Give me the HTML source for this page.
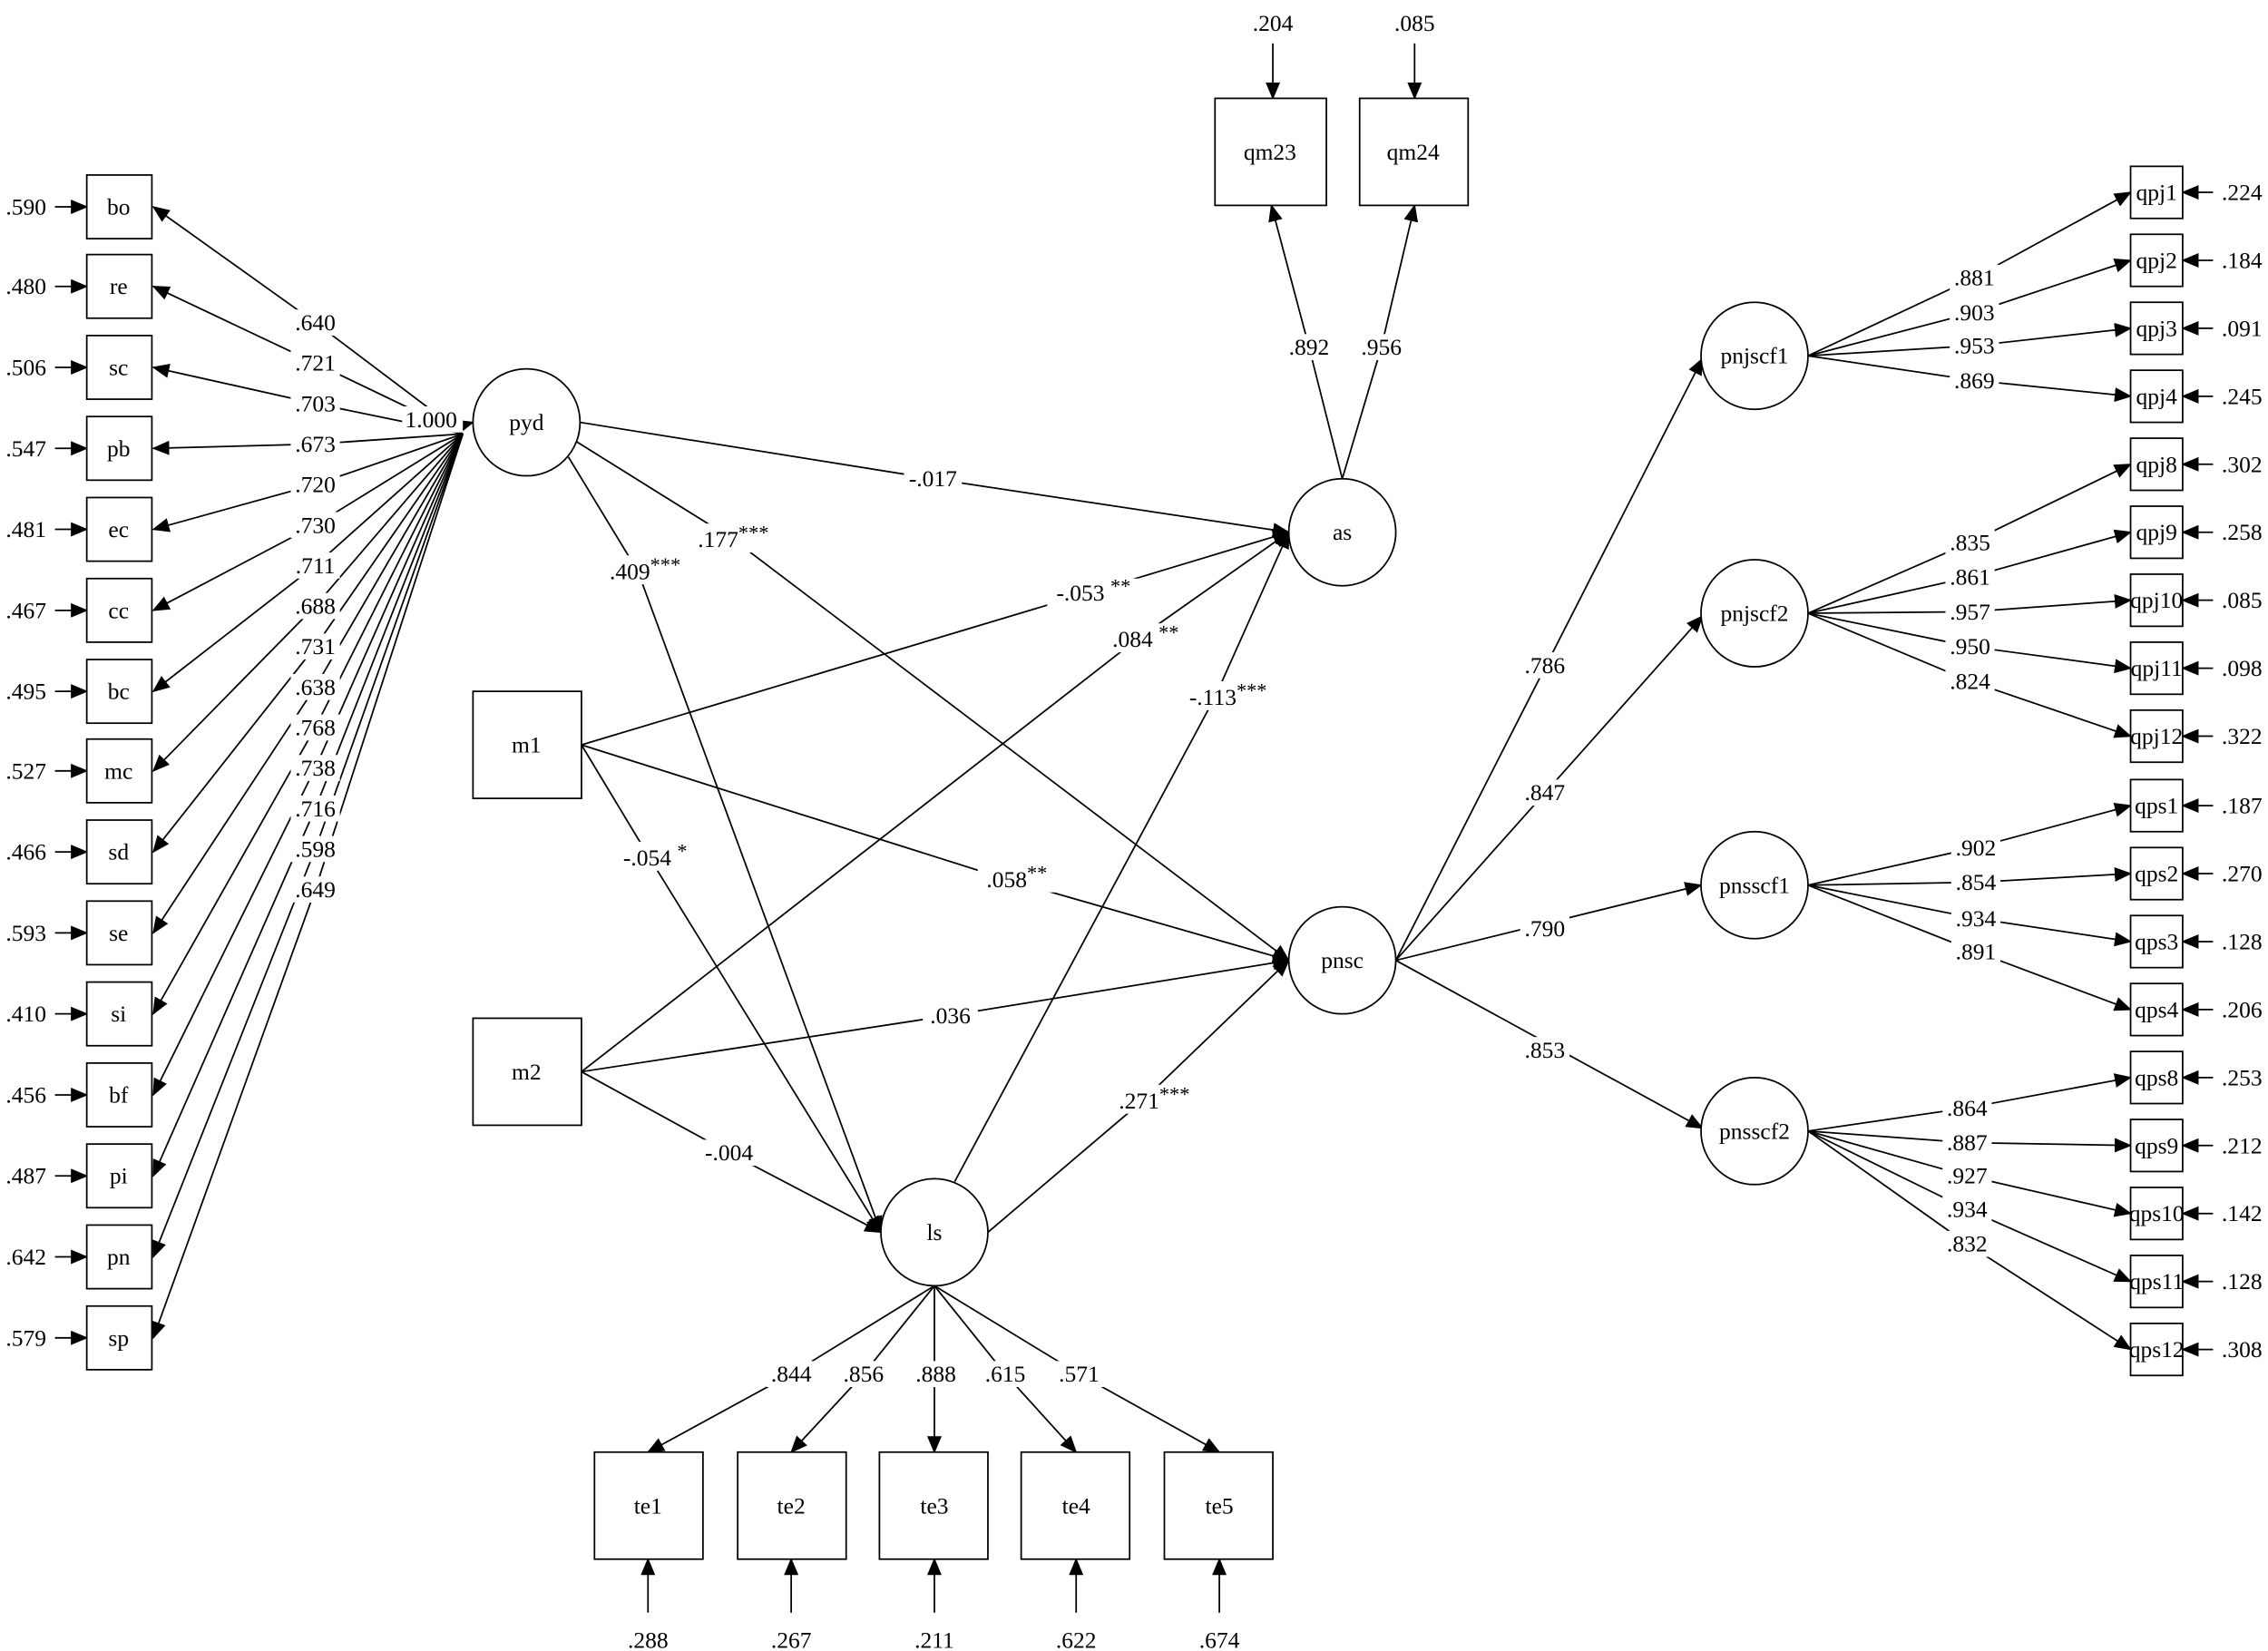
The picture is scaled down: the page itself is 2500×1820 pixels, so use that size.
<!DOCTYPE html>
<html><head><meta charset="utf-8"><style>
html,body{margin:0;padding:0;background:#fff;}
svg{display:block;}
text{font-family:"Liberation Serif",serif;font-size:16px;fill:#000;}
line,polyline{stroke:#000;stroke-width:1.1;fill:none;}
rect,circle{stroke:#000;stroke-width:1.1;fill:#fff;}
rect.b{stroke:none;fill:#fff;}
</style></head><body>
<svg width="2500" height="1820" viewBox="0 0 1568 1141.5" xmlns="http://www.w3.org/2000/svg">
<defs><marker id="a" markerWidth="12" markerHeight="10" refX="11" refY="5" orient="auto" markerUnits="userSpaceOnUse"><path d="M0,0 L12,5 L0,10 z" style="fill:#000;stroke:none"/></marker></defs>
<g marker-end="url(#a)">
<!-- left errors -->
<line x1="38" y1="143" x2="60" y2="143"/><line x1="38" y1="198" x2="60" y2="198"/><line x1="38" y1="254" x2="60" y2="254"/><line x1="38" y1="310" x2="60" y2="310"/><line x1="38" y1="366" x2="60" y2="366"/><line x1="38" y1="422" x2="60" y2="422"/><line x1="38" y1="478" x2="60" y2="478"/><line x1="38" y1="533" x2="60" y2="533"/><line x1="38" y1="589" x2="60" y2="589"/><line x1="38" y1="645" x2="60" y2="645"/><line x1="38" y1="701" x2="60" y2="701"/><line x1="38" y1="757" x2="60" y2="757"/><line x1="38" y1="813" x2="60" y2="813"/><line x1="38" y1="869" x2="60" y2="869"/><line x1="38" y1="925" x2="60" y2="925"/>
<!-- left loadings -->
<polyline points="320,300 218,223 106,143"/>
<polyline points="320,300 218,251 106,198"/>
<polyline points="320,300 218,279 106,254"/>
<polyline points="320,300 218,307 106,310"/>
<polyline points="320,300 218,335 106,366"/>
<polyline points="320,300 218,363 106,422"/>
<polyline points="320,300 218,391 106,478"/>
<polyline points="320,300 218,419 106,533"/>
<polyline points="320,300 218,447 106,589"/>
<polyline points="320,300 218,475 106,645"/>
<polyline points="320,300 218,503 106,701"/>
<polyline points="320,300 218,531 106,757"/>
<polyline points="320,300 218,559 106,813"/>
<polyline points="320,300 218,587 106,869"/>
<polyline points="320,300 218,615 106,925"/>
<line x1="320" y1="294" x2="327" y2="292"/>
<!-- structural -->
<polyline points="401,292 645,331 891,368"/>
<polyline points="398,305 507,373 891,664"/>
<polyline points="393,316 441,395 609,852"/>
<polyline points="402,515 752,410 891,368"/>
<polyline points="402,515 696,608 891,664"/>
<polyline points="402,515 449,593 609,852"/>
<polyline points="402,741 786,442 891,368"/>
<polyline points="402,741 657,702 891,664"/>
<polyline points="402,741 504,797 609,852"/>
<polyline points="660,817 840,482 891,368"/>
<polyline points="683,852 790,761 891,664"/>
<!-- as indicators -->
<line x1="880" y1="30" x2="880" y2="68"/><line x1="978" y1="30" x2="978" y2="68"/>
<polyline points="928,331 905,240 879,142"/><polyline points="928,331 955,240 978,142"/>
<!-- ls indicators -->
<polyline points="646,889 547,950 448,1004"/><polyline points="646,889 597,950 547,1004"/><line x1="646" y1="889" x2="646" y2="1004"/><polyline points="646,889 695,950 744,1004"/><polyline points="646,889 746,950 843,1004"/>
<line x1="448" y1="1115" x2="448" y2="1078"/><line x1="547" y1="1115" x2="547" y2="1078"/><line x1="646" y1="1115" x2="646" y2="1078"/><line x1="744" y1="1115" x2="744" y2="1078"/><line x1="843" y1="1115" x2="843" y2="1078"/>
<!-- pnsc second order -->
<line x1="965" y1="664" x2="1177" y2="248"/><line x1="965" y1="664" x2="1177" y2="426"/><line x1="965" y1="664" x2="1176" y2="612"/><line x1="965" y1="664" x2="1177" y2="780"/>
<!-- right loadings -->
<polyline points="1250,246 1365,192 1473,133"/><polyline points="1250,246 1365,216 1473,180"/><polyline points="1250,246 1365,239 1473,227"/><polyline points="1250,246 1365,263 1473,274"/>
<polyline points="1250,424 1362,375 1473,321"/><polyline points="1250,424 1362,399 1473,368"/><polyline points="1250,424 1362,423 1473,415"/><polyline points="1250,424 1362,447 1473,462"/><polyline points="1250,424 1362,471 1473,509"/>
<polyline points="1250,612 1366,586 1473,557"/><polyline points="1250,612 1366,610 1473,604"/><polyline points="1250,612 1366,635 1473,651"/><polyline points="1250,612 1366,658 1473,698"/>
<polyline points="1250,782 1360,766 1473,745"/><polyline points="1250,782 1360,790 1473,792"/><polyline points="1250,782 1360,813 1473,839"/><polyline points="1250,782 1360,836 1473,886"/><polyline points="1250,782 1360,860 1473,933"/>
<!-- right errors -->
<line x1="1530" y1="133" x2="1509" y2="133"/><line x1="1530" y1="180" x2="1509" y2="180"/><line x1="1530" y1="227" x2="1509" y2="227"/><line x1="1530" y1="274" x2="1509" y2="274"/><line x1="1530" y1="321" x2="1509" y2="321"/><line x1="1530" y1="368" x2="1509" y2="368"/><line x1="1530" y1="415" x2="1509" y2="415"/><line x1="1530" y1="462" x2="1509" y2="462"/><line x1="1530" y1="509" x2="1509" y2="509"/><line x1="1530" y1="557" x2="1509" y2="557"/><line x1="1530" y1="604" x2="1509" y2="604"/><line x1="1530" y1="651" x2="1509" y2="651"/><line x1="1530" y1="698" x2="1509" y2="698"/><line x1="1530" y1="745" x2="1509" y2="745"/><line x1="1530" y1="792" x2="1509" y2="792"/><line x1="1530" y1="839" x2="1509" y2="839"/><line x1="1530" y1="886" x2="1509" y2="886"/><line x1="1530" y1="933" x2="1509" y2="933"/>
</g>
<!-- label backgrounds -->
<g>
<rect class="b" x="201" y="214" width="34" height="18"/><rect class="b" x="201" y="242" width="34" height="18"/><rect class="b" x="201" y="270" width="34" height="18"/><rect class="b" x="201" y="298" width="34" height="18"/><rect class="b" x="201" y="326" width="34" height="18"/><rect class="b" x="201" y="354" width="34" height="18"/><rect class="b" x="201" y="382" width="34" height="18"/><rect class="b" x="201" y="410" width="34" height="18"/><rect class="b" x="201" y="438" width="34" height="18"/><rect class="b" x="201" y="466" width="34" height="18"/><rect class="b" x="201" y="494" width="34" height="18"/><rect class="b" x="201" y="522" width="34" height="18"/><rect class="b" x="201" y="550" width="34" height="18"/><rect class="b" x="201" y="578" width="34" height="18"/><rect class="b" x="201" y="606" width="34" height="18"/>
<rect class="b" x="278" y="281" width="42" height="18"/>
<rect class="b" x="625" y="322" width="40" height="18"/>
<rect class="b" x="488" y="362" width="52" height="20"/>
<rect class="b" x="418" y="384" width="58" height="20"/>
<rect class="b" x="724" y="400" width="64" height="20"/>
<rect class="b" x="766" y="431" width="52" height="20"/>
<rect class="b" x="818" y="471" width="62" height="20"/>
<rect class="b" x="676" y="597" width="54" height="20"/>
<rect class="b" x="428" y="582" width="50" height="20"/>
<rect class="b" x="638" y="693" width="38" height="18"/>
<rect class="b" x="484" y="788" width="40" height="18"/>
<rect class="b" x="770" y="750" width="56" height="20"/>
<rect class="b" x="888" y="231" width="34" height="18"/><rect class="b" x="938" y="231" width="34" height="18"/>
<rect class="b" x="530" y="941" width="34" height="18"/><rect class="b" x="580" y="941" width="34" height="18"/><rect class="b" x="630" y="941" width="34" height="18"/><rect class="b" x="678" y="941" width="34" height="18"/><rect class="b" x="729" y="941" width="34" height="18"/>
<rect class="b" x="1051" y="451" width="34" height="18"/><rect class="b" x="1051" y="539" width="34" height="18"/><rect class="b" x="1051" y="633" width="34" height="18"/><rect class="b" x="1051" y="717" width="34" height="18"/>
<rect class="b" x="1348" y="183" width="34" height="18"/><rect class="b" x="1348" y="207" width="34" height="18"/><rect class="b" x="1348" y="230" width="34" height="18"/><rect class="b" x="1348" y="254" width="34" height="18"/>
<rect class="b" x="1345" y="366" width="34" height="18"/><rect class="b" x="1345" y="390" width="34" height="18"/><rect class="b" x="1345" y="414" width="34" height="18"/><rect class="b" x="1345" y="438" width="34" height="18"/><rect class="b" x="1345" y="462" width="34" height="18"/>
<rect class="b" x="1349" y="577" width="34" height="18"/><rect class="b" x="1349" y="601" width="34" height="18"/><rect class="b" x="1349" y="626" width="34" height="18"/><rect class="b" x="1349" y="649" width="34" height="18"/>
<rect class="b" x="1343" y="757" width="34" height="18"/><rect class="b" x="1343" y="781" width="34" height="18"/><rect class="b" x="1343" y="804" width="34" height="18"/><rect class="b" x="1343" y="827" width="34" height="18"/><rect class="b" x="1343" y="851" width="34" height="18"/>
</g>
<!-- shapes -->
<g>
<rect x="60" y="121" width="45" height="44"/><rect x="60" y="176" width="45" height="44"/><rect x="60" y="232" width="45" height="44"/><rect x="60" y="288" width="45" height="44"/><rect x="60" y="344" width="45" height="44"/><rect x="60" y="400" width="45" height="44"/><rect x="60" y="456" width="45" height="44"/><rect x="60" y="511" width="45" height="44"/><rect x="60" y="567" width="45" height="44"/><rect x="60" y="623" width="45" height="44"/><rect x="60" y="679" width="45" height="44"/><rect x="60" y="735" width="45" height="44"/><rect x="60" y="791" width="45" height="44"/><rect x="60" y="847" width="45" height="44"/><rect x="60" y="903" width="45" height="44"/>
<circle cx="364" cy="292" r="37"/>
<rect x="327" y="478" width="75" height="74"/><rect x="327" y="704" width="75" height="74"/>
<circle cx="928" cy="368" r="37"/><circle cx="928" cy="664" r="37"/><circle cx="646" cy="852" r="37"/>
<rect x="840" y="68" width="77" height="74"/><rect x="940" y="68" width="75" height="74"/>
<rect x="411" y="1004" width="75" height="74"/><rect x="510" y="1004" width="75" height="74"/><rect x="608" y="1004" width="75" height="74"/><rect x="706" y="1004" width="75" height="74"/><rect x="805" y="1004" width="75" height="74"/>
<circle cx="1213" cy="246" r="37"/><circle cx="1213" cy="424" r="37"/><circle cx="1213" cy="612" r="37"/><circle cx="1213" cy="782" r="37"/>
<rect x="1473" y="115" width="36" height="36"/><rect x="1473" y="162" width="36" height="36"/><rect x="1473" y="209" width="36" height="36"/><rect x="1473" y="256" width="36" height="36"/><rect x="1473" y="303" width="36" height="36"/><rect x="1473" y="350" width="36" height="36"/><rect x="1473" y="397" width="36" height="36"/><rect x="1473" y="444" width="36" height="36"/><rect x="1473" y="491" width="36" height="36"/><rect x="1473" y="539" width="36" height="36"/><rect x="1473" y="586" width="36" height="36"/><rect x="1473" y="633" width="36" height="36"/><rect x="1473" y="680" width="36" height="36"/><rect x="1473" y="727" width="36" height="36"/><rect x="1473" y="774" width="36" height="36"/><rect x="1473" y="821" width="36" height="36"/><rect x="1473" y="868" width="36" height="36"/><rect x="1473" y="915" width="36" height="36"/>
</g>
<g text-anchor="middle" dominant-baseline="central">
<text x="82" y="143">bo</text><text x="82" y="198">re</text><text x="82" y="254">sc</text><text x="82" y="310">pb</text><text x="82" y="366">ec</text><text x="82" y="422">cc</text><text x="82" y="478">bc</text><text x="82" y="533">mc</text><text x="82" y="589">sd</text><text x="82" y="645">se</text><text x="82" y="701">si</text><text x="82" y="757">bf</text><text x="82" y="813">pi</text><text x="82" y="869">pn</text><text x="82" y="925">sp</text>
<text x="18" y="143">.590</text><text x="18" y="198">.480</text><text x="18" y="254">.506</text><text x="18" y="310">.547</text><text x="18" y="366">.481</text><text x="18" y="422">.467</text><text x="18" y="478">.495</text><text x="18" y="533">.527</text><text x="18" y="589">.466</text><text x="18" y="645">.593</text><text x="18" y="701">.410</text><text x="18" y="757">.456</text><text x="18" y="813">.487</text><text x="18" y="869">.642</text><text x="18" y="925">.579</text>
<text x="218" y="223">.640</text><text x="218" y="251">.721</text><text x="218" y="279">.703</text><text x="218" y="307">.673</text><text x="218" y="335">.720</text><text x="218" y="363">.730</text><text x="218" y="391">.711</text><text x="218" y="419">.688</text><text x="218" y="447">.731</text><text x="218" y="475">.638</text><text x="218" y="503">.768</text><text x="218" y="531">.738</text><text x="218" y="559">.716</text><text x="218" y="587">.598</text><text x="218" y="615">.649</text>
<text x="298" y="290">1.000</text>
<text x="364" y="292">pyd</text><text x="364" y="515">m1</text><text x="364" y="741">m2</text>
<text x="928" y="368">as</text><text x="928" y="664">pnsc</text><text x="646" y="852">ls</text>
<text x="878" y="105">qm23</text><text x="977" y="105">qm24</text>
<text x="880" y="16">.204</text><text x="978" y="16">.085</text>
<text x="905" y="240">.892</text><text x="955" y="240">.956</text>
<text x="645" y="331">-.017</text>
<text x="507" y="373">.177<tspan dy="-5" font-size="14">***</tspan></text>
<text x="446" y="395">.409<tspan dy="-5" font-size="14">***</tspan></text>
<text x="756" y="410">-.053 <tspan dy="-5" font-size="14">**</tspan></text>
<text x="792" y="442">.084 <tspan dy="-5" font-size="14">**</tspan></text>
<text x="849" y="482">-.113<tspan dy="-5" font-size="14">***</tspan></text>
<text x="703" y="608">.058<tspan dy="-5" font-size="14">**</tspan></text>
<text x="453" y="593">-.054 <tspan dy="-5" font-size="14">*</tspan></text>
<text x="657" y="702">.036</text>
<text x="504" y="797">-.004</text>
<text x="798" y="761">.271<tspan dy="-5" font-size="14">***</tspan></text>
<text x="448" y="1041">te1</text><text x="547" y="1041">te2</text><text x="646" y="1041">te3</text><text x="744" y="1041">te4</text><text x="843" y="1041">te5</text>
<text x="448" y="1134">.288</text><text x="547" y="1134">.267</text><text x="646" y="1134">.211</text><text x="744" y="1134">.622</text><text x="843" y="1134">.674</text>
<text x="547" y="950">.844</text><text x="597" y="950">.856</text><text x="647" y="950">.888</text><text x="695" y="950">.615</text><text x="746" y="950">.571</text>
<text x="1213" y="246">pnjscf1</text><text x="1213" y="424">pnjscf2</text><text x="1213" y="612">pnsscf1</text><text x="1213" y="782">pnsscf2</text>
<text x="1068" y="460">.786</text><text x="1068" y="548">.847</text><text x="1068" y="642">.790</text><text x="1068" y="726">.853</text>
<text x="1365" y="192">.881</text><text x="1365" y="216">.903</text><text x="1365" y="239">.953</text><text x="1365" y="263">.869</text>
<text x="1362" y="375">.835</text><text x="1362" y="399">.861</text><text x="1362" y="423">.957</text><text x="1362" y="447">.950</text><text x="1362" y="471">.824</text>
<text x="1366" y="586">.902</text><text x="1366" y="610">.854</text><text x="1366" y="635">.934</text><text x="1366" y="658">.891</text>
<text x="1360" y="766">.864</text><text x="1360" y="790">.887</text><text x="1360" y="813">.927</text><text x="1360" y="836">.934</text><text x="1360" y="860">.832</text>
<text x="1491" y="133">qpj1</text><text x="1491" y="180">qpj2</text><text x="1491" y="227">qpj3</text><text x="1491" y="274">qpj4</text><text x="1491" y="321">qpj8</text><text x="1491" y="368">qpj9</text><text x="1491" y="415">qpj10</text><text x="1491" y="462">qpj11</text><text x="1491" y="509">qpj12</text><text x="1491" y="557">qps1</text><text x="1491" y="604">qps2</text><text x="1491" y="651">qps3</text><text x="1491" y="698">qps4</text><text x="1491" y="745">qps8</text><text x="1491" y="792">qps9</text><text x="1491" y="839">qps10</text><text x="1491" y="886">qps11</text><text x="1491" y="933">qps12</text>
<text x="1550" y="133">.224</text><text x="1550" y="180">.184</text><text x="1550" y="227">.091</text><text x="1550" y="274">.245</text><text x="1550" y="321">.302</text><text x="1550" y="368">.258</text><text x="1550" y="415">.085</text><text x="1550" y="462">.098</text><text x="1550" y="509">.322</text><text x="1550" y="557">.187</text><text x="1550" y="604">.270</text><text x="1550" y="651">.128</text><text x="1550" y="698">.206</text><text x="1550" y="745">.253</text><text x="1550" y="792">.212</text><text x="1550" y="839">.142</text><text x="1550" y="886">.128</text><text x="1550" y="933">.308</text>
</g>
</svg>
</body></html>
